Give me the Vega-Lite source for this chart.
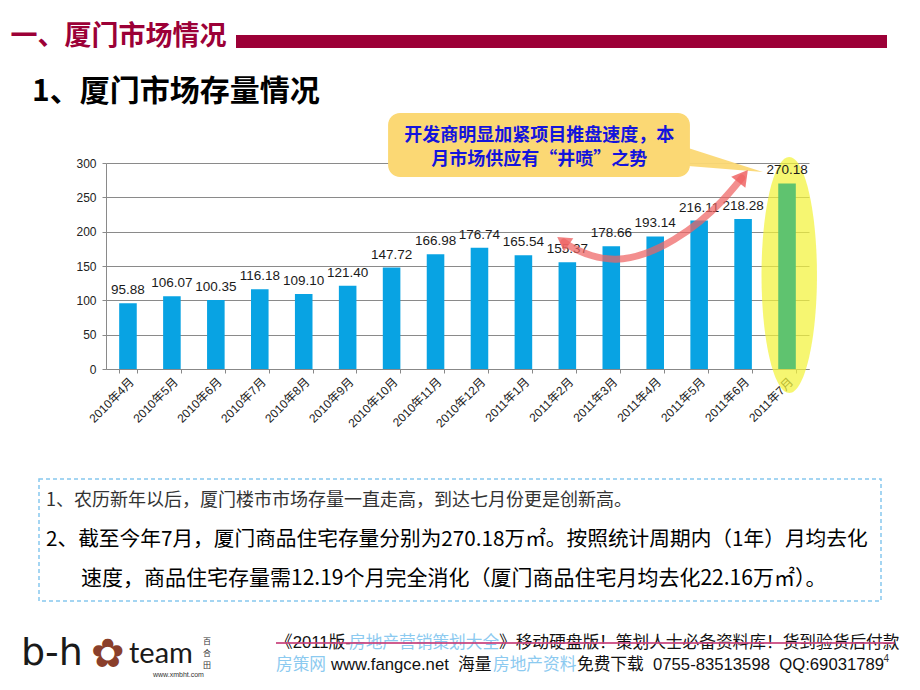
{
  "$schema": "https://vega.github.io/schema/vega-lite/v6.json",
  "background": "white",
  "padding": {"left": 9, "top": 22, "right": 0, "bottom": 0},
  "config": {"view": {"stroke": null}, "font": "Liberation Sans"},
  "spacing": 48,
  "vconcat": [
    {
      "spacing": 28,
      "vconcat": [
        {
          "spacing": 0,
          "hconcat": [
            {"width": 1, "height": 1, "data": {"values": []}, "mark": "point"},
            {
              "width": 651,
              "height": 13,
              "data": {"values": [{"section": "一、厦门市场情况"}]},
              "mark": {"type": "rect", "color": "#9c0037"},
              "encoding": {
                "y": {
                  "field": "section",
                  "type": "nominal",
                  "scale": {"paddingInner": 0, "paddingOuter": 0},
                  "axis": {"title": null, "domain": false, "ticks": false, "tickSize": 0, "labelPadding": 10, "labelOffset": -5, "labelFont": "Noto Sans CJK SC", "labelFontSize": 27, "labelFontWeight": "bold", "labelColor": "#9c0037", "labelLimit": 400}
                }
              }
            }
          ]
        },
        {
          "spacing": 0,
          "hconcat": [
            {"width": 23, "height": 1, "data": {"values": []}, "mark": "point"},
            {
              "width": 703,
              "height": 206,
              "title": {"text": "1、厦门市场存量情况", "anchor": "start", "frame": "group", "dx": -74, "offset": -18, "font": "Noto Sans CJK SC", "fontSize": 30, "fontWeight": "bold", "color": "#000000", "baseline": "alphabetic"},
              "resolve": {"scale": {"x": "independent", "y": "independent"}},
              "layer": [
                {
                  "data": {"values": [{}]},
                  "mark": {"type": "point", "shape": "M0,-1A0.235,1 0 1,1 0,1A0.235,1 0 1,1 0,-1Z", "size": 55696, "filled": true, "color": "#f3f23a", "opacity": 0.72, "strokeWidth": 0},
                  "encoding": {
                    "x": {"datum": 15.55, "type": "quantitative", "scale": {"domain": [0, 16]}, "axis": null},
                    "y": {"datum": 137, "type": "quantitative", "scale": {"domain": [0, 300]}, "axis": null}
                  }
                },
                {
                  "data": {"values": [
                    {"month": "2010年4月", "value": 95.88},
                    {"month": "2010年5月", "value": 106.07},
                    {"month": "2010年6月", "value": 100.35},
                    {"month": "2010年7月", "value": 116.18},
                    {"month": "2010年8月", "value": 109.10},
                    {"month": "2010年9月", "value": 121.40},
                    {"month": "2010年10月", "value": 147.72},
                    {"month": "2010年11月", "value": 166.98},
                    {"month": "2010年12月", "value": 176.74},
                    {"month": "2011年1月", "value": 165.54},
                    {"month": "2011年2月", "value": 155.37},
                    {"month": "2011年3月", "value": 178.66},
                    {"month": "2011年4月", "value": 193.14},
                    {"month": "2011年5月", "value": 216.11},
                    {"month": "2011年6月", "value": 218.28},
                    {"month": "2011年7月", "value": 270.18}
                  ]},
                  "encoding": {
                    "x": {
                      "field": "month", "type": "ordinal", "sort": null,
                      "scale": {"paddingInner": 0.6, "paddingOuter": 0.3},
                      "axis": {"title": null, "labelAngle": -45, "labelFontSize": 12, "labelColor": "#222222", "labelFont": "Liberation Sans, Noto Sans CJK SC", "tickBand": "extent", "tickSize": 4, "tickColor": "#888888", "domainColor": "#888888", "labelPadding": 3, "grid": false}
                    },
                    "y": {
                      "field": "value", "type": "quantitative",
                      "scale": {"domain": [0, 300]},
                      "axis": {"title": null, "values": [0, 50, 100, 150, 200, 250, 300], "grid": true, "gridColor": "#8a8a8a", "domainColor": "#8a8a8a", "tickColor": "#8a8a8a", "tickSize": 4, "labelFontSize": 12, "labelColor": "#222222", "labelPadding": 6, "labelFont": "Liberation Sans"}
                    }
                  },
                  "layer": [
                    {
                      "mark": {"type": "bar"},
                      "encoding": {
                        "color": {"condition": {"test": "datum.month === '2011年7月'", "value": "#5fc36f"}, "value": "#08a3e3"}
                      }
                    },
                    {
                      "mark": {"type": "text", "dy": -9, "baseline": "alphabetic", "fontSize": 13.5, "color": "#1a1a1a", "font": "Liberation Sans"},
                      "encoding": {"text": {"field": "value", "type": "quantitative", "format": ".2f"}}
                    }
                  ]
                },
                {
                  "data": {"values": [{"i": 13.25, "lo": 295.6, "hi": 321.8}, {"i": 14.95, "lo": 286.9, "hi": 286.9}]},
                  "mark": {"type": "area", "color": "#fbd874", "opacity": 0.95},
                  "encoding": {
                    "x": {"field": "i", "type": "quantitative", "scale": {"domain": [0, 16]}, "axis": null},
                    "y": {"field": "lo", "type": "quantitative", "scale": {"domain": [0, 300]}, "axis": null},
                    "y2": {"field": "hi"}
                  }
                },
                {
                  "data": {"values": [{}]},
                  "mark": {"type": "rect", "color": "#fbd874", "cornerRadius": 12},
                  "encoding": {
                    "x": {"datum": 6.42, "type": "quantitative", "scale": {"domain": [0, 16]}, "axis": null},
                    "x2": {"datum": 13.29},
                    "y": {"datum": 372.8, "type": "quantitative", "scale": {"domain": [0, 300]}, "axis": null},
                    "y2": {"datum": 279.6}
                  }
                },
                {
                  "data": {"values": [{"note": "开发商明显加紧项目推盘速度，本\n月市场供应有“井喷”之势"}]},
                  "mark": {"type": "text", "lineBreak": "\n", "lineHeight": 24, "align": "center", "baseline": "middle", "dy": -9, "font": "Noto Sans CJK SC", "fontSize": 18, "fontWeight": "bold", "color": "#1414dc"},
                  "encoding": {
                    "text": {"field": "note"},
                    "x": {"datum": 9.86, "type": "quantitative", "scale": {"domain": [0, 16]}, "axis": null},
                    "y": {"datum": 326, "type": "quantitative", "scale": {"domain": [0, 300]}, "axis": null}
                  }
                },
                {
                  "data": {"values": [
                    {"i": 10.42, "v": 184.9},
                    {"i": 10.62, "v": 176},
                    {"i": 11.02, "v": 164.6},
                    {"i": 11.59, "v": 157.3},
                    {"i": 12.27, "v": 166.0},
                    {"i": 12.95, "v": 187.9},
                    {"i": 13.52, "v": 214.1},
                    {"i": 14.02, "v": 243.2},
                    {"i": 14.47, "v": 278.1}
                  ]},
                  "mark": {"type": "line", "interpolate": "basis", "color": "#ee6464", "strokeWidth": 7, "opacity": 0.72, "strokeCap": "round"},
                  "encoding": {
                    "x": {"field": "i", "type": "quantitative", "scale": {"domain": [0, 16]}, "axis": null},
                    "y": {"field": "v", "type": "quantitative", "scale": {"domain": [0, 300]}, "axis": null}
                  }
                },
                {
                  "data": {"values": [{}]},
                  "mark": {"type": "point", "shape": "triangle-up", "size": 260, "filled": true, "color": "#ee6464", "opacity": 0.8, "angle": -55, "strokeWidth": 0},
                  "encoding": {
                    "x": {"datum": 10.40, "type": "quantitative", "scale": {"domain": [0, 16]}, "axis": null},
                    "y": {"datum": 186.5, "type": "quantitative", "scale": {"domain": [0, 300]}, "axis": null}
                  }
                },
                {
                  "data": {"values": [{}]},
                  "mark": {"type": "point", "shape": "triangle-up", "size": 320, "filled": true, "color": "#ee6464", "opacity": 0.85, "angle": 38, "strokeWidth": 0},
                  "encoding": {
                    "x": {"datum": 14.50, "type": "quantitative", "scale": {"domain": [0, 16]}, "axis": null},
                    "y": {"datum": 281, "type": "quantitative", "scale": {"domain": [0, 300]}, "axis": null}
                  }
                }
              ]
            }
          ]
        }
      ]
    },
    {
      "spacing": 30,
      "vconcat": [
        {
          "spacing": 0,
          "hconcat": [
            {"width": 29, "height": 1, "data": {"values": []}, "mark": "point"},
            {
              "width": 842,
              "height": 122,
              "view": {"stroke": "#86c8ee", "strokeDash": [4, 3], "strokeWidth": 1.5},
              "data": {"values": [
                {"line": 1, "text": "1、农历新年以后，厦门楼市市场存量一直走高，到达七月份更是创新高。"},
                {"line": 2, "text": "2、截至今年7月，厦门商品住宅存量分别为270.18万㎡。按照统计周期内（1年）月均去化"},
                {"line": 3, "text": "速度，商品住宅存量需12.19个月完全消化（厦门商品住宅月均去化22.16万㎡）。"}
              ]},
              "encoding": {
                "y": {"field": "line", "type": "ordinal", "scale": {"type": "point", "padding": 0.57}, "axis": null},
                "x": {"datum": 0, "type": "quantitative", "scale": {"domain": [0, 1]}, "axis": null},
                "text": {"field": "text"}
              },
              "layer": [
                {"transform": [{"filter": "datum.line == 1"}], "mark": {"type": "text", "align": "left", "baseline": "middle", "dx": 7, "font": "Noto Sans CJK SC", "fontSize": 18, "color": "#333333"}},
                {"transform": [{"filter": "datum.line == 2"}], "mark": {"type": "text", "align": "left", "baseline": "middle", "dx": 7, "font": "Noto Sans CJK SC", "fontSize": 20.7, "color": "#000000"}},
                {"transform": [{"filter": "datum.line == 3"}], "mark": {"type": "text", "align": "left", "baseline": "middle", "dx": 42, "font": "Noto Sans CJK SC", "fontSize": 21, "color": "#000000"}}
              ]
            }
          ]
        },
        {
          "spacing": 0,
          "hconcat": [
            {"width": 11, "height": 1, "data": {"values": []}, "mark": "point"},
            {
              "width": 255,
              "height": 44,
              "data": {"values": [{"a": "b-h", "b": "✿", "c": "team", "d": "百\n合\n田", "e": "www.xmbht.com"}]},
              "encoding": {"x": {"datum": 0, "type": "quantitative", "scale": {"domain": [0, 1]}, "axis": null}},
              "layer": [
                {"mark": {"type": "text", "align": "left", "baseline": "middle", "dx": 1, "font": "DejaVu Sans", "fontSize": 38, "color": "#1a1a1a"}, "encoding": {"text": {"field": "a"}}},
                {"mark": {"type": "text", "align": "left", "baseline": "middle", "dx": 71, "dy": 1, "fontSize": 40, "color": "#8a3f2b", "font": "DejaVu Sans"}, "encoding": {"text": {"field": "b"}}},
                {"mark": {"type": "text", "align": "left", "baseline": "middle", "dx": 109, "font": "Lato", "fontSize": 29, "color": "#1a1a1a"}, "encoding": {"text": {"field": "c"}}},
                {"mark": {"type": "text", "align": "left", "baseline": "middle", "dx": 183, "dy": -12, "lineBreak": "\n", "lineHeight": 12, "font": "Noto Sans CJK SC", "fontSize": 8, "color": "#333333"}, "encoding": {"text": {"field": "d"}}},
                {"mark": {"type": "text", "align": "left", "baseline": "middle", "dx": 133, "dy": 21, "font": "Liberation Sans", "fontSize": 7, "color": "#333333"}, "encoding": {"text": {"field": "e"}}}
              ]
            },
            {
              "width": 625,
              "height": 44,
              "data": {"values": [
                {"row": "A", "seg": 1, "text": "《2011版-"},
                {"row": "A", "seg": 2, "text": "房地产营销策划大全"},
                {"row": "A", "seg": 3, "text": "》移动硬盘版！策划人士必备资料库！货到验货后付款"},
                {"row": "B", "seg": 1, "text": "房策网"},
                {"row": "B", "seg": 2, "text": "www.fangce.net\u00a0\u00a0海量"},
                {"row": "B", "seg": 3, "text": "房地产资料"},
                {"row": "B", "seg": 4, "text": "免费下载\u00a0\u00a00755-83513598\u00a0\u00a0QQ:69031789"}
              ]},
              "encoding": {
                "y": {"field": "row", "type": "ordinal", "scale": {"type": "point", "padding": 0.5}, "axis": null},
                "x": {"datum": 0, "type": "quantitative", "scale": {"domain": [0, 1]}, "axis": null},
                "text": {"field": "text"}
              },
              "layer": [
                {"transform": [{"filter": "datum.row == 'A' && datum.seg == 1"}], "mark": {"type": "text", "align": "left", "baseline": "middle", "font": "Liberation Sans, Noto Sans CJK SC", "fontSize": 16.7, "color": "#111111"}},
                {"transform": [{"filter": "datum.row == 'A' && datum.seg == 2"}], "mark": {"type": "text", "align": "left", "baseline": "middle", "dx": 73, "font": "Liberation Sans, Noto Sans CJK SC", "fontSize": 16.7, "color": "#8ccaf0"}},
                {"transform": [{"filter": "datum.row == 'A' && datum.seg == 3"}], "mark": {"type": "text", "align": "left", "baseline": "middle", "dx": 223, "font": "Liberation Sans, Noto Sans CJK SC", "fontSize": 16.7, "color": "#111111"}},
                {"transform": [{"filter": "datum.row == 'B' && datum.seg == 1"}], "mark": {"type": "text", "align": "left", "baseline": "middle", "font": "Liberation Sans, Noto Sans CJK SC", "fontSize": 16.7, "color": "#8ccaf0"}},
                {"transform": [{"filter": "datum.row == 'B' && datum.seg == 2"}], "mark": {"type": "text", "align": "left", "baseline": "middle", "dx": 55, "font": "Liberation Sans, Noto Sans CJK SC", "fontSize": 16.7, "color": "#111111"}},
                {"transform": [{"filter": "datum.row == 'B' && datum.seg == 3"}], "mark": {"type": "text", "align": "left", "baseline": "middle", "dx": 217, "font": "Liberation Sans, Noto Sans CJK SC", "fontSize": 16.7, "color": "#8ccaf0"}},
                {"transform": [{"filter": "datum.row == 'B' && datum.seg == 4"}], "mark": {"type": "text", "align": "left", "baseline": "middle", "dx": 301, "font": "Liberation Sans, Noto Sans CJK SC", "fontSize": 16.7, "color": "#111111"}},
                {"transform": [{"filter": "datum.row == 'A' && datum.seg == 1"}], "mark": {"type": "rule", "color": "#c8407a", "strokeWidth": 2, "opacity": 0.85}, "encoding": {"x2": {"datum": 0.99}}},
                {"data": {"values": [{"p": "4"}]}, "mark": {"type": "text", "align": "right", "baseline": "middle", "dx": -12, "dy": -6, "fontSize": 10, "color": "#333333"}, "encoding": {"text": {"field": "p"}, "x": {"datum": 1, "type": "quantitative", "scale": {"domain": [0, 1]}, "axis": null}, "y": {"datum": "B", "type": "ordinal"}}}
              ]
            }
          ]
        }
      ]
    }
  ]
}
